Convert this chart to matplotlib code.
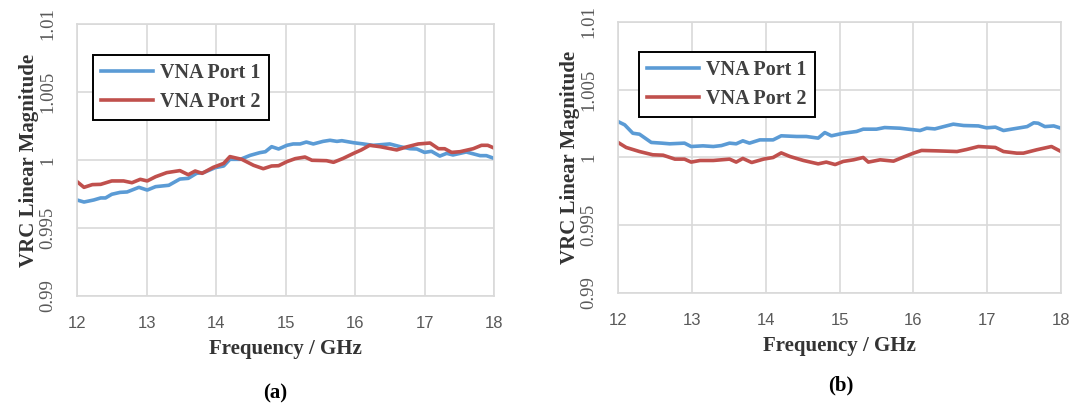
import matplotlib
matplotlib.use("Agg")
import matplotlib.pyplot as plt

# ---- data ----
# (a) left panel
freq_a_p1 = [12.00, 12.10, 12.24, 12.34, 12.41, 12.50, 12.62, 12.72, 12.89, 13.01,
             13.13, 13.32, 13.48, 13.60, 13.72, 13.82, 13.99, 14.11, 14.20, 14.35,
             14.49, 14.63, 14.71, 14.80, 14.90, 15.02, 15.11, 15.21, 15.30, 15.40,
             15.54, 15.64, 15.74, 15.81, 15.98, 16.12, 16.26, 16.50, 16.65, 16.79,
             16.89, 17.00, 17.10, 17.22, 17.32, 17.41, 17.60, 17.80, 17.89, 18.00]
vrc_a_p1 = [0.99706, 0.99691, 0.99706, 0.99721, 0.99721, 0.99748, 0.99762, 0.99765, 0.99799, 0.99779,
            0.99804, 0.99814, 0.99860, 0.99865, 0.99902, 0.99907, 0.99944, 0.99956, 1.00005, 1.00005,
            1.00034, 1.00054, 1.00061, 1.00098, 1.00081, 1.00108, 1.00118, 1.00118, 1.00132, 1.00118,
            1.00137, 1.00145, 1.00137, 1.00142, 1.00127, 1.00118, 1.00108, 1.00118, 1.00098, 1.00083,
            1.00081, 1.00056, 1.00064, 1.00029, 1.00049, 1.00037, 1.00059, 1.00032, 1.00032, 1.00012]

freq_a_p2 = [12.00, 12.10, 12.22, 12.34, 12.50, 12.67, 12.79, 12.91, 13.01, 13.13,
             13.29, 13.48, 13.60, 13.70, 13.80, 13.96, 14.11, 14.20, 14.37, 14.54,
             14.68, 14.80, 14.90, 15.02, 15.14, 15.28, 15.38, 15.59, 15.69, 15.83,
             15.98, 16.09, 16.21, 16.36, 16.60, 16.74, 16.91, 17.08, 17.20, 17.29,
             17.39, 17.51, 17.70, 17.82, 17.91, 18.00]
vrc_a_p2 = [0.99841, 0.99799, 0.99819, 0.99821, 0.99846, 0.99846, 0.99833, 0.99858, 0.99846, 0.99877,
            0.99907, 0.99922, 0.99892, 0.99919, 0.99902, 0.99946, 0.99975, 1.00025, 1.00005, 0.99961,
            0.99936, 0.99956, 0.99958, 0.99988, 1.00010, 1.00022, 0.99998, 0.99995, 0.99983, 1.00012,
            1.00049, 1.00074, 1.00108, 1.00098, 1.00074, 1.00096, 1.00118, 1.00125, 1.00083, 1.00083,
            1.00056, 1.00061, 1.00083, 1.00108, 1.00108, 1.00088]

# (b) right panel
freq_b_p1 = [12.00, 12.09, 12.20, 12.29, 12.45, 12.59, 12.70, 12.90, 12.99, 13.15,
             13.29, 13.40, 13.51, 13.60, 13.69, 13.78, 13.92, 14.10, 14.21, 14.42,
             14.55, 14.71, 14.80, 14.89, 15.05, 15.23, 15.32, 15.50, 15.61, 15.82,
             16.09, 16.18, 16.29, 16.41, 16.54, 16.68, 16.88, 16.99, 17.11, 17.22,
             17.35, 17.54, 17.63, 17.69, 17.78, 17.90, 18.00]
vrc_b_p1 = [1.00265, 1.00241, 1.00179, 1.00172, 1.00111, 1.00106, 1.00101, 1.00106, 1.00081, 1.00086,
            1.00081, 1.00088, 1.00106, 1.00101, 1.00123, 1.00106, 1.00130, 1.00130, 1.00160, 1.00155,
            1.00155, 1.00143, 1.00184, 1.00160, 1.00179, 1.00192, 1.00209, 1.00209, 1.00221, 1.00216,
            1.00199, 1.00216, 1.00211, 1.00228, 1.00246, 1.00236, 1.00233, 1.00219, 1.00224, 1.00199,
            1.00211, 1.00228, 1.00256, 1.00253, 1.00228, 1.00233, 1.00216]

freq_b_p2 = [12.00, 12.11, 12.29, 12.47, 12.61, 12.77, 12.90, 12.99, 13.11, 13.29,
             13.51, 13.60, 13.69, 13.81, 13.97, 14.10, 14.21, 14.33, 14.51, 14.71,
             14.82, 14.94, 15.05, 15.19, 15.32, 15.39, 15.55, 15.73, 15.86, 16.00,
             16.11, 16.32, 16.59, 16.72, 16.88, 17.11, 17.22, 17.40, 17.49, 17.67,
             17.87, 18.00]
vrc_b_p2 = [1.00111, 1.00074, 1.00044, 1.00020, 1.00017, 0.99988, 0.99988, 0.99966, 0.99978, 0.99978,
            0.99988, 0.99966, 0.99993, 0.99963, 0.99988, 1.00000, 1.00034, 1.00007, 0.99978, 0.99953,
            0.99966, 0.99948, 0.99971, 0.99983, 1.00000, 0.99966, 0.99983, 0.99973, 1.00002, 1.00032,
            1.00052, 1.00049, 1.00044, 1.00059, 1.00081, 1.00074, 1.00044, 1.00032, 1.00032, 1.00057,
            1.00081, 1.00044]

x_ticks = [12, 13, 14, 15, 16, 17, 18]
y_ticks = [0.99, 0.995, 1.0, 1.005, 1.01]
y_tick_labels = ["0.99", "0.995", "1", "1.005", "1.01"]
series_names = ["VNA Port 1", "VNA Port 2"]
panel_labels = ["(a)", "(b)"]

blue = "#5B9BD5"
red = "#C0504D"
grid_grey = "#D9D9D9"

fig = plt.figure(figsize=(10.73, 4.11), dpi=100)

# axes rectangles picked to sit where the reference panels are
ax_a = fig.add_axes([0.0718, 0.2798, 0.3886, 0.6618])
ax_b = fig.add_axes([0.5760, 0.2871, 0.4129, 0.6594])

panels = [
    (ax_a, freq_a_p1, vrc_a_p1, freq_a_p2, vrc_a_p2, (0.038, 0.886)),
    (ax_b, freq_b_p1, vrc_b_p1, freq_b_p2, vrc_b_p2, (0.047, 0.889)),
]

for ax, f1, v1, f2, v2, leg_pos in panels:
    ax.plot(f1, v1, color=blue, lw=2.6, label=series_names[0])
    ax.plot(f2, v2, color=red, lw=2.6, label=series_names[1])

    ax.set_xlim(12, 18)
    ax.set_ylim(0.99, 1.01)
    ax.set_xticks(x_ticks)
    ax.set_yticks(y_ticks)
    ax.set_yticklabels(y_tick_labels, rotation=90, va="center",
                       family="Liberation Serif", fontsize=13.5, color="#595959")
    ax.set_xticklabels([str(t) for t in x_ticks], family="Liberation Sans",
                       fontsize=12, color="#595959")
    ax.tick_params(axis="x", length=0, pad=14.5)
    ax.tick_params(axis="y", length=0, pad=15)

    ax.grid(True, color=grid_grey, lw=1.2)
    ax.set_axisbelow(True)
    for s in ax.spines.values():
        s.set_color(grid_grey)
        s.set_linewidth(1.2)

    ax.set_xlabel("Frequency / GHz", family="Liberation Serif", weight="bold",
                  fontsize=15, color="#333333", labelpad=5.5)
    ax.set_ylabel("VRC Linear Magnitude", family="Liberation Serif", weight="bold",
                  fontsize=15, color="#333333", labelpad=0.5)

    leg = ax.legend(loc="upper left", bbox_to_anchor=leg_pos, fancybox=False,
                    edgecolor="black", framealpha=1, handlelength=2.6,
                    handletextpad=0.35, borderpad=0.4, labelspacing=0.45,
                    borderaxespad=0,
                    prop={"family": "Liberation Serif", "weight": "bold", "size": 14.5})
    leg.get_frame().set_linewidth(1.4)
    for t in leg.get_texts():
        t.set_color("#404040")

fig.text(275 / 1073, 1 - 393 / 411, panel_labels[0], ha="center", va="center",
         family="Liberation Serif", weight="bold", fontsize=15)
fig.text(841 / 1073, 1 - 385 / 411, panel_labels[1], ha="center", va="center",
         family="Liberation Serif", weight="bold", fontsize=15)

fig.savefig("out.png", dpi=100, facecolor="white")
